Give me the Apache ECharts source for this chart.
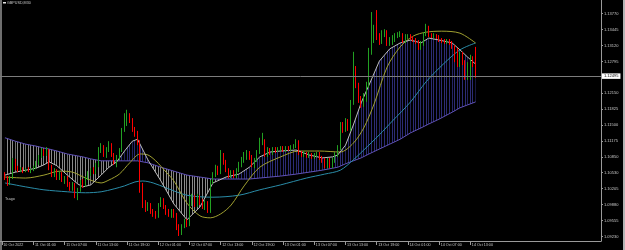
<!DOCTYPE html>
<html><head><meta charset="utf-8">
<script src="https://cdn.jsdelivr.net/npm/echarts@6/dist/echarts.min.js"></script>
<style>html,body{margin:0;padding:0;background:#000;}#c{width:625px;height:250px;}</style>
</head><body><div id="c"></div>
<script>
const symbolName = 'GBPUSD,M30';
const indicatorName = 'Tsago';
const lastPrice = 1.12495;
const timeLabels = ['10 Oct 2022','11 Oct 01:00','11 Oct 07:00','11 Oct 13:00','11 Oct 19:00','12 Oct 01:00','12 Oct 07:00','12 Oct 13:00','12 Oct 19:00','13 Oct 01:00','13 Oct 07:00','13 Oct 13:00','13 Oct 19:00','14 Oct 01:00','14 Oct 07:00','14 Oct 13:00'];
const timeLabelBars = [-1.2, 11, 23, 35, 47, 59, 71, 83, 95, 107, 119, 131, 143, 155, 167, 179];
const priceTicks = [1.13770, 1.13445, 1.13120, 1.12795, 1.12150, 1.11825, 1.11500, 1.11175, 1.10850, 1.10530, 1.10205, 1.09880, 1.09555, 1.09230];

const opens = [
1.1050,1.1042,1.1032,1.1042,1.1077,1.1062,1.1058,1.1060,1.1056,1.1060,
1.1056,1.1058,1.1062,1.1073,1.1085,1.1097,1.1091,1.1099,1.1064,1.1048,
1.1058,1.1042,1.1052,1.1038,1.1042,1.1028,1.1020,1.1030,1.1005,1.1018,
1.1034,1.1028,1.1042,1.1050,1.1058,1.1054,1.1069,1.1099,1.1105,1.1089,
1.1099,1.1109,1.1089,1.1075,1.1083,1.1099,1.1140,1.1164,1.1170,1.1158,
1.1140,1.1132,1.1115,1.1018,1.0987,1.0981,1.0989,1.0973,1.0969,1.0965,
1.0987,1.0997,1.0983,1.0973,1.0967,1.0975,1.0967,1.0940,1.0932,1.0944,
1.0953,1.0948,1.0999,1.1003,1.0987,1.1003,1.0993,1.0983,1.0991,1.0975,
1.1034,1.1048,1.1062,1.1052,1.1087,1.1073,1.1058,1.1046,1.1054,1.1046,
1.1058,1.1069,1.1079,1.1089,1.1093,1.1083,1.1069,1.1079,1.1095,1.1115,
1.1119,1.1089,1.1099,1.1093,1.1101,1.1097,1.1101,1.1103,1.1099,1.1103,
1.1101,1.1105,1.1107,1.1117,1.1093,1.1089,1.1093,1.1087,1.1091,1.1085,
1.1089,1.1091,1.1083,1.1077,1.1067,1.1079,1.1067,1.1079,1.1089,1.1103,
1.1150,1.1140,1.1158,1.1142,1.1195,1.1262,1.1231,1.1201,1.1191,1.1205,
1.1231,1.1299,1.1323,1.1343,1.1327,1.1319,1.1335,1.1339,1.1315,1.1323,
1.1327,1.1331,1.1333,1.1335,1.1321,1.1329,1.1331,1.1327,1.1323,1.1319,
1.1307,1.1315,1.1335,1.1350,1.1333,1.1331,1.1333,1.1329,1.1323,1.1321,
1.1319,1.1323,1.1317,1.1309,1.1286,1.1272,1.1293,1.1278,1.1246,1.1256,
1.1286,1.1272];
const closes = [
1.1042,1.1032,1.1042,1.1077,1.1062,1.1058,1.1060,1.1056,1.1060,1.1056,
1.1058,1.1062,1.1073,1.1085,1.1097,1.1091,1.1099,1.1064,1.1048,1.1058,
1.1042,1.1052,1.1038,1.1042,1.1028,1.1020,1.1030,1.1005,1.1018,1.1034,
1.1028,1.1042,1.1050,1.1058,1.1054,1.1069,1.1099,1.1105,1.1089,1.1099,
1.1109,1.1089,1.1075,1.1083,1.1099,1.1140,1.1164,1.1170,1.1158,1.1140,
1.1132,1.1115,1.1018,1.0987,1.0981,1.0989,1.0973,1.0969,1.0965,1.0987,
1.0997,1.0983,1.0973,1.0967,1.0975,1.0967,1.0940,1.0932,1.0944,1.0953,
1.0948,1.0999,1.1003,1.0987,1.1003,1.0993,1.0983,1.0991,1.0975,1.1034,
1.1048,1.1062,1.1052,1.1087,1.1073,1.1058,1.1046,1.1054,1.1046,1.1058,
1.1069,1.1079,1.1089,1.1093,1.1083,1.1069,1.1079,1.1095,1.1115,1.1119,
1.1089,1.1099,1.1093,1.1101,1.1097,1.1101,1.1103,1.1099,1.1103,1.1101,
1.1105,1.1107,1.1117,1.1093,1.1089,1.1093,1.1087,1.1091,1.1085,1.1089,
1.1091,1.1083,1.1077,1.1067,1.1079,1.1067,1.1079,1.1089,1.1103,1.1150,
1.1140,1.1158,1.1142,1.1195,1.1262,1.1231,1.1201,1.1191,1.1205,1.1231,
1.1299,1.1323,1.1343,1.1327,1.1319,1.1335,1.1339,1.1315,1.1323,1.1327,
1.1331,1.1333,1.1335,1.1321,1.1329,1.1331,1.1327,1.1323,1.1319,1.1307,
1.1315,1.1335,1.1350,1.1333,1.1331,1.1333,1.1329,1.1323,1.1321,1.1319,
1.1323,1.1317,1.1309,1.1286,1.1272,1.1293,1.1278,1.1246,1.1256,1.1286,
1.1272,1.12495];
const highs = [
1.1054,1.1046,1.1046,1.1083,1.1081,1.1067,1.1064,1.1064,1.1062,1.1064,
1.1062,1.1067,1.1077,1.1089,1.1103,1.1101,1.1105,1.1101,1.1069,1.1062,
1.1060,1.1056,1.1054,1.1046,1.1046,1.1034,1.1034,1.1032,1.1022,1.1038,
1.1040,1.1046,1.1056,1.1062,1.1064,1.1073,1.1105,1.1113,1.1109,1.1105,
1.1117,1.1113,1.1093,1.1089,1.1103,1.1144,1.1174,1.1181,1.1174,1.1164,
1.1146,1.1138,1.1119,1.1032,1.0997,1.0993,1.0991,1.0979,1.0975,1.0991,
1.1003,1.1001,1.0987,1.0979,1.0979,1.0979,1.0971,1.0948,1.0948,1.0959,
1.0959,1.1005,1.1010,1.1007,1.1010,1.1007,1.0999,1.0997,1.0995,1.1038,
1.1054,1.1069,1.1067,1.1099,1.1093,1.1079,1.1062,1.1058,1.1058,1.1062,
1.1075,1.1085,1.1095,1.1099,1.1097,1.1089,1.1083,1.1099,1.1124,1.1134,
1.1121,1.1105,1.1103,1.1105,1.1105,1.1105,1.1107,1.1107,1.1107,1.1107,
1.1109,1.1111,1.1121,1.1119,1.1097,1.1097,1.1095,1.1095,1.1093,1.1093,
1.1095,1.1095,1.1087,1.1083,1.1083,1.1083,1.1083,1.1095,1.1109,1.1156,
1.1156,1.1164,1.1162,1.1201,1.1299,1.1270,1.1236,1.1209,1.1215,1.1238,
1.1307,1.1380,1.1354,1.1384,1.1337,1.1343,1.1345,1.1343,1.1329,1.1333,
1.1337,1.1339,1.1341,1.1337,1.1335,1.1335,1.1335,1.1331,1.1327,1.1323,
1.1321,1.1339,1.1356,1.1352,1.1337,1.1337,1.1335,1.1333,1.1327,1.1325,
1.1325,1.1325,1.1321,1.1313,1.1307,1.1299,1.1299,1.1282,1.1278,1.1293,
1.1290,1.1309];
const lows = [
1.1038,1.1026,1.1028,1.1040,1.1058,1.1054,1.1054,1.1052,1.1054,1.1054,
1.1052,1.1056,1.1060,1.1069,1.1083,1.1087,1.1087,1.1058,1.1044,1.1044,
1.1038,1.1038,1.1034,1.1030,1.1024,1.1016,1.1016,1.1001,1.0997,1.1014,
1.1022,1.1024,1.1038,1.1046,1.1050,1.1050,1.1064,1.1093,1.1085,1.1083,
1.1095,1.1085,1.1069,1.1064,1.1079,1.1095,1.1136,1.1148,1.1154,1.1136,
1.1126,1.1109,1.1012,1.0981,1.0973,1.0975,1.0969,1.0963,1.0959,1.0961,
1.0983,1.0979,1.0967,1.0963,1.0961,1.0961,1.0936,1.0924,1.0926,1.0940,
1.0942,1.0944,1.0985,1.0983,1.0983,1.0987,1.0979,1.0977,1.0971,1.0971,
1.1030,1.1044,1.1048,1.1050,1.1069,1.1054,1.1042,1.1042,1.1042,1.1042,
1.1054,1.1064,1.1073,1.1079,1.1079,1.1064,1.1062,1.1075,1.1091,1.1109,
1.1085,1.1085,1.1089,1.1089,1.1093,1.1095,1.1097,1.1095,1.1095,1.1097,
1.1097,1.1101,1.1103,1.1089,1.1085,1.1085,1.1083,1.1083,1.1081,1.1081,
1.1085,1.1079,1.1073,1.1062,1.1062,1.1062,1.1062,1.1073,1.1085,1.1099,
1.1134,1.1136,1.1138,1.1138,1.1191,1.1225,1.1195,1.1185,1.1187,1.1197,
1.1225,1.1293,1.1317,1.1323,1.1313,1.1315,1.1329,1.1311,1.1311,1.1313,
1.1319,1.1327,1.1329,1.1317,1.1317,1.1325,1.1323,1.1319,1.1315,1.1303,
1.1303,1.1311,1.1331,1.1329,1.1327,1.1327,1.1325,1.1319,1.1317,1.1315,
1.1315,1.1313,1.1305,1.1278,1.1268,1.1268,1.1272,1.1242,1.1242,1.1242,
1.1268,1.1246];

// fast (white) and slow (purple) averages, read at these bars; the hatched cloud lies between them
const cloudBars = [0,4,8,12,15,17,20,24,28,30,33,37,40,43,46,49,51,55,60,65,70,75,80,85,90,94,98,102,106,112,117,122,126,128,131,134,137,140,144,148,152,156,160,163,167,172,175,178,181];
const fastMA = [1.1048,1.1054,1.1058,1.1062,1.1069,1.1075,1.1067,1.1048,1.1030,1.1024,
1.1028,1.1048,1.1064,1.1075,1.1097,1.1117,1.1121,1.1079,1.1036,1.0989,
1.0957,1.0983,1.1032,1.1044,1.1050,1.1064,1.1085,1.1095,1.1097,1.1099,
1.1089,1.1083,1.1085,1.1089,1.1109,1.1150,1.1195,1.1231,1.1280,1.1305,
1.1317,1.1323,1.1317,1.1327,1.1323,1.1317,1.1303,1.1288,1.1274];
const slowMA = [1.1124,1.1117,1.1111,1.1107,1.1103,1.1101,1.1097,1.1091,1.1087,1.1085,
1.1081,1.1077,1.1077,1.1077,1.1077,1.1077,1.1077,1.1073,1.1064,1.1056,
1.1048,1.1044,1.1040,1.1040,1.1040,1.1040,1.1042,1.1044,1.1046,1.1050,
1.1054,1.1058,1.1062,1.1064,1.1071,1.1077,1.1083,1.1091,1.1101,1.1111,
1.1121,1.1134,1.1144,1.1152,1.1162,1.1176,1.1185,1.1191,1.1197];
// yellow average
const midBars = [0,8,15,21,26,31,37,40,44,48,52,55,58,62,65,70,75,79,83,87,92,98,106,113,121,129,134,138,142,147,152,157,162,168,175,181];
const midMA = [1.1044,1.1042,1.1048,1.1056,1.1054,1.1042,1.1032,1.1038,1.1050,1.1073,
1.1091,1.1089,1.1077,1.1054,1.1036,1.0991,1.0965,1.0961,1.0969,1.0987,
1.1026,1.1064,1.1085,1.1097,1.1097,1.1095,1.1113,1.1144,1.1193,1.1268,
1.1309,1.1331,1.1339,1.1341,1.1337,1.1317];
// teal average
const longBars = [0,8,15,24,31,37,42,46,50,53,57,62,70,80,90,98,106,116,123,129,134,138,144,149,156,162,169,175,181];
const longMA = [1.1032,1.1024,1.1018,1.1014,1.1012,1.1014,1.1020,1.1026,1.1034,1.1036,
1.1032,1.1022,1.1007,1.1003,1.1007,1.1018,1.1028,1.1042,1.1050,1.1058,
1.1079,1.1099,1.1130,1.1158,1.1197,1.1238,1.1276,1.1303,1.1317];

const FONT = 'Liberation Sans';
const TXT = '#c8c8c8';
const AXIS = '#9a9a9a';

function hatch(color) {
  const c = document.createElement('canvas');
  c.width = 13; c.height = 8;
  const g = c.getContext('2d');
  g.fillStyle = color;
  [2, 4, 7, 10, 12].forEach(x => g.fillRect(x, 0, 1, 8));
  return { image: c, repeat: 'repeat' };
}
const grayHatch = hatch('#8a8a8a');
const blueHatch = hatch('#2c2c74');

const candleData = opens.map((o, i) => [i, o, closes[i], lows[i], highs[i]]);

const chart = echarts.init(document.getElementById('c'), null, { renderer: 'canvas', width: 625, height: 250 });
chart.setOption({
  animation: false,
  backgroundColor: '#000',
  title: { text: symbolName, left: 7, top: 0.8, padding: 0,
    textStyle: { color: TXT, fontSize: 3.7, fontWeight: 'normal', fontFamily: FONT } },
  grid: { left: 0, right: 24, top: 0, bottom: 9, containLabel: false },
  xAxis: {
    type: 'value', min: -1.9, max: 229.254,
    splitLine: { show: false },
    axisLine: { show: true, onZero: false, lineStyle: { color: AXIS, width: 1 } },
    axisTick: { show: true, customValues: timeLabelBars, length: 4, lineStyle: { color: AXIS } },
    axisLabel: {
      customValues: timeLabelBars, align: 'left', margin: 2, padding: [0, 0, 0, 1.5],
      color: TXT, fontSize: 3.7, fontFamily: FONT,
      formatter: v => { const k = timeLabelBars.findIndex(b => Math.abs(b - v) < 0.01); return k >= 0 ? timeLabels[k] : ''; }
    }
  },
  yAxis: {
    type: 'value', position: 'right', min: 1.09138, max: 1.14045,
    splitLine: { show: false },
    axisLine: { show: true, onZero: false, lineStyle: { color: AXIS, width: 1 } },
    axisTick: { show: true, customValues: priceTicks, length: 2, lineStyle: { color: AXIS } },
    axisLabel: { customValues: priceTicks, margin: 3, color: TXT, fontSize: 4, fontFamily: FONT,
      formatter: v => v.toFixed(5) }
  },
  graphic: [
    { type: 'rect', left: 0, top: 0, shape: { width: 2, height: 250 }, style: { fill: '#6e6e6e' }, silent: true },
    { type: 'rect', right: 0, top: 0, shape: { width: 2, height: 250 }, style: { fill: '#b4b4b4' }, silent: true },
    { type: 'rect', left: 3, top: 2, shape: { width: 3, height: 1.5 }, style: { fill: '#e6e6e6' }, silent: true },
    { type: 'text', left: 5, top: 196.5, style: { text: indicatorName, fill: TXT, font: '3.7px "' + FONT + '"' }, silent: true }
  ],
  series: [
    {
      type: 'custom', name: 'cloud', z: 1, silent: true, clip: true,
      data: cloudBars.map((b, k) => [b, fastMA[k], slowMA[k]]),
      encode: { x: 0, y: [1, 2] },
      renderItem: function (params, api) {
        const k = params.dataIndex;
        if (k >= cloudBars.length - 1) return null;
        const x0 = cloudBars[k], x1 = cloudBars[k + 1];
        const f0 = fastMA[k], f1 = fastMA[k + 1], s0 = slowMA[k], s1 = slowMA[k + 1];
        const d0 = f0 - s0, d1 = f1 - s1;
        const poly = (pts, up) => ({ type: 'polygon', shape: { points: pts.map(p => api.coord(p)) },
          style: { fill: up ? blueHatch : grayHatch, stroke: null } });
        const children = [];
        if (d0 * d1 >= 0) {
          children.push(poly([[x0, f0], [x1, f1], [x1, s1], [x0, s0]], d0 + d1 > 0));
        } else {
          const t = d0 / (d0 - d1);
          const xc = x0 + t * (x1 - x0), yc = f0 + t * (f1 - f0);
          children.push(poly([[x0, f0], [xc, yc], [x0, s0]], d0 > 0));
          children.push(poly([[xc, yc], [x1, f1], [x1, s1]], d1 > 0));
        }
        return { type: 'group', children: children };
      }
    },
    { type: 'line', name: 'slow', z: 2, silent: true, symbol: 'none', showSymbol: false,
      data: cloudBars.map((b, k) => [b, slowMA[k]]), lineStyle: { color: '#6052b8', width: 1 } },
    { type: 'line', name: 'long', z: 2, silent: true, symbol: 'none', showSymbol: false, smooth: 0.3,
      data: longBars.map((b, k) => [b, longMA[k]]), lineStyle: { color: '#2a8ca8', width: 1 } },
    { type: 'line', name: 'mid', z: 2, silent: true, symbol: 'none', showSymbol: false, smooth: 0.3,
      data: midBars.map((b, k) => [b, midMA[k]]), lineStyle: { color: '#a0a030', width: 1 } },
    { type: 'line', name: 'fast', z: 2, silent: true, symbol: 'none', showSymbol: false,
      data: cloudBars.map((b, k) => [b, fastMA[k]]), lineStyle: { color: '#bdbdbd', width: 1 },
      markLine: {
        silent: true, symbol: 'none', animation: false, precision: 5,
        data: [{ yAxis: lastPrice }],
        lineStyle: { color: '#7c7c7c', width: 1, type: 'solid' },
        label: { show: true, position: 'end', distance: 1, formatter: lastPrice.toFixed(5),
          backgroundColor: '#ffffff', color: '#000', fontSize: 4, fontFamily: FONT, padding: [1, 2, 0.5, 2] }
      }
    },
    {
      type: 'candlestick', name: symbolName, z: 3, silent: true,
      data: candleData, encode: { x: 0, y: [1, 2, 3, 4] },
      barWidth: 1,
      itemStyle: { color: '#22a022', color0: '#ff0000', borderColor: '#22a022', borderColor0: '#ff0000', borderWidth: 1 }
    }
  ]
});
</script>
</body></html>
